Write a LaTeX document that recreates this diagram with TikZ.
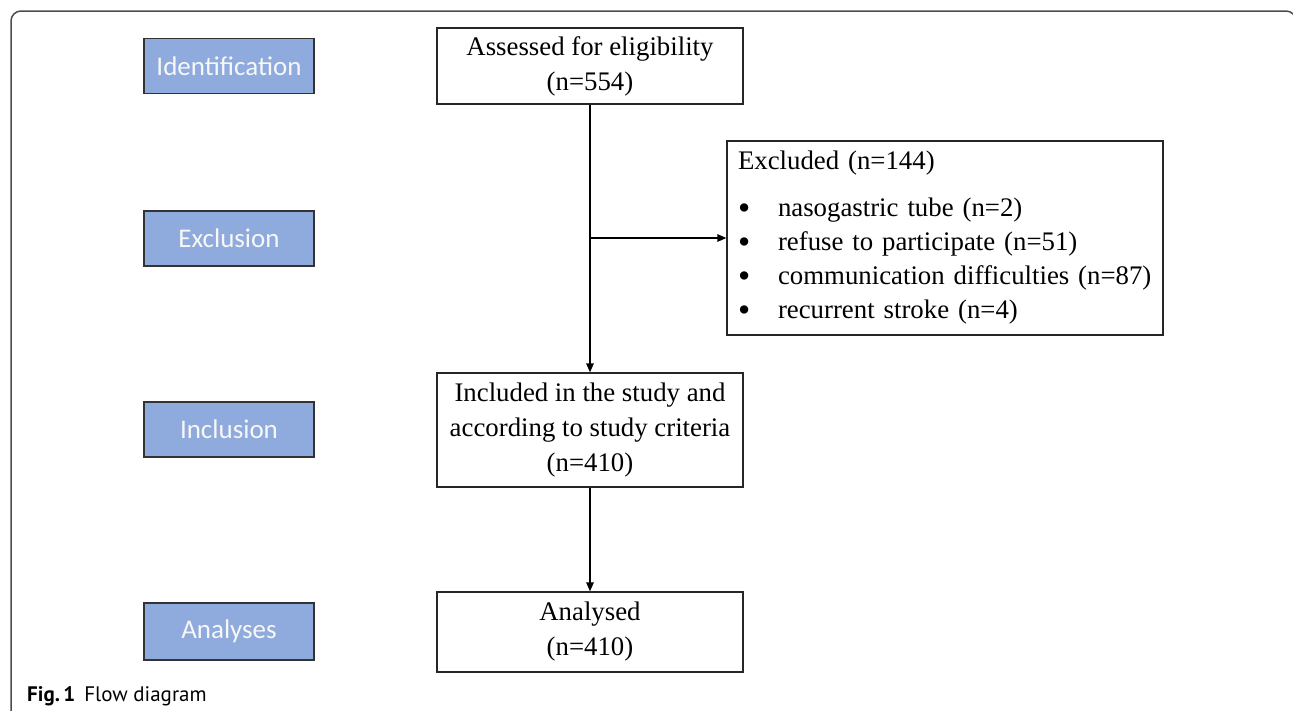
\documentclass[tikz,border=0pt]{standalone}
\usepackage{fontspec}
\setmainfont{Liberation Serif}
\newfontfamily\stagefont{Carlito}
\newfontfamily\captionfont{PT Sans}
\usepackage{tikz}
\usetikzlibrary{arrows.meta}

\definecolor{stageblue}{HTML}{8FAADC}
\definecolor{stagetext}{HTML}{F7F7F7}
\definecolor{framegray}{HTML}{4D4D4D}

\newcommand{\itembullet}{\makebox[40pt][l]{\smash{\raisebox{-2.5pt}{\scalebox{1.3}{\textbullet}}}}}

\tikzset{
    stage/.style={rectangle, draw=black!80, line width=1.3pt, fill=stageblue,
        text=stagetext, font=\stagefont\fontsize{27}{32}\selectfont,
        minimum width=170pt, minimum height=55pt, inner sep=0pt},
    flowbox/.style={rectangle, draw=black!85, line width=1.3pt, align=center,
        font=\fontsize{26.8}{35}\selectfont, minimum width=306pt, inner sep=0pt},
    arrowline/.style={-{Triangle[length=9pt,width=7.5pt]}, line width=1.3pt}
}

\begin{document}
\begin{tikzpicture}[x=1pt, y=-1pt]
        \useasboundingbox (0,0) rectangle (1293,710);

        % Frame
        \draw[framegray, line width=1.5pt, rounded corners=10pt]
            (11,716) -- (11,11) -- (1296,11) -- (1296,60);

        % Stages
        \node[stage] (ident) at (229, 66) {Identification};
        \node[stage] (exclu) at (229, 238.5) {Exclusion};
        \node[stage] (inclu) at (229, 429.5) {Inclusion};
        \node[stage, minimum height=57pt] (analy) at (229, 631.5) {Analyses};

        % Nodes
        \node[flowbox, minimum height=76pt] (assess) at (590, 66) {Assessed for eligibility\\(n=554)};
        \node[flowbox, minimum height=114pt] (incl) at (590, 430) {Included in the study and\\according to study criteria\\(n=410)};
        \node[flowbox, minimum height=80pt] (anal) at (590, 632) {Analysed\\(n=410)};
        \node[flowbox, minimum width=436pt, minimum height=194pt, text width=414pt,
            inner xsep=11pt, align=left, font=\fontsize{26.8}{34}\selectfont] (excl) at (945, 238)
            {Excluded (n=144)\\[13pt]
             \itembullet nasogastric tube (n=2)\\
             \itembullet refuse to participate (n=51)\\
             \itembullet communication difficulties (n=87)\\
             \itembullet recurrent stroke (n=4)};

        % Edges
        \coordinate (branch) at (590, 238);
        \draw[arrowline] (assess) -- (incl);
        \draw[arrowline] (branch) -- (branch -| excl.west);
        \draw[arrowline] (incl) -- (anal);

        % Caption
        \node[anchor=base west, inner sep=0pt, font=\captionfont\fontsize{21}{25}\selectfont]
            (caption) at (27, 701) {\textbf{Fig.\,1}\hspace{9pt}Flow diagram};
    \end{tikzpicture}
\end{document}
